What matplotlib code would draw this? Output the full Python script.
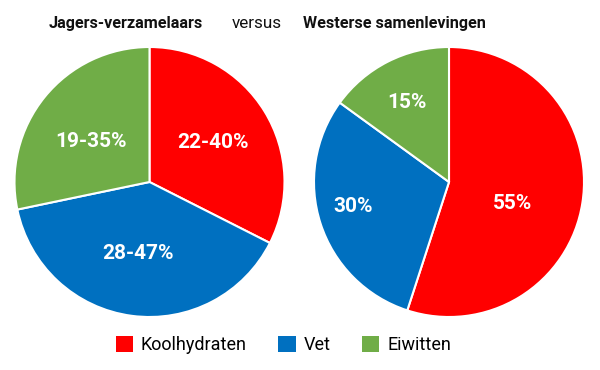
import matplotlib
matplotlib.use("Agg")
import matplotlib.pyplot as plt
from matplotlib.patches import Patch

plt.rcParams['font.family'] = ['Roboto', 'DejaVu Sans']

categories = ["Koolhydraten", "Vet", "Eiwitten"]
colors = ["#FF0000", "#0070C0", "#70AD47"]

# Hunter-gatherers: ranges (midpoints used for slice sizes)
hg_low = [22, 28, 19]
hg_high = [40, 47, 35]
hg_values = [(a + b) / 2 for a, b in zip(hg_low, hg_high)]
hg_labels = [f"{a}-{b}%" for a, b in zip(hg_low, hg_high)]

# Western societies
west_values = [55, 30, 15]
west_labels = [f"{v}%" for v in west_values]

fig = plt.figure(figsize=(6, 3.7), dpi=100)

W, H = 600, 370
r = 135
def pie_axes(cx, cy):
    return fig.add_axes([(cx - r) / W, (H - cy - r) / H, 2 * r / W, 2 * r / H])

ax1 = pie_axes(149.5, 182)
ax2 = pie_axes(449, 182)

for ax, vals, labs, pos in [
    (ax1, hg_values, hg_labels, [(0.47, 0.29), (-0.085, -0.526), (-0.43, 0.30)]),
    (ax2, west_values, west_labels, [(0.47, -0.156), (-0.71, -0.185), (-0.31, 0.59)]),
]:
    ax.pie(vals, colors=colors, startangle=90, counterclock=False, radius=1,
           wedgeprops=dict(edgecolor="white", linewidth=1.5))
    for (x, y), t in zip(pos, labs):
        ax.text(x, y, t, color="white", fontsize=15, fontweight="bold",
                ha="center", va="center")
    ax.set_xlim(-1, 1)
    ax.set_ylim(-1, 1)
    ax.set_aspect("equal")
    ax.axis("off")

fig.text(126 / W, 1 - 28 / H, "Jagers-verzamelaars", ha="center", va="baseline",
         fontsize=11.6, fontweight="bold", color="#111111")
fig.text(257 / W, 1 - 28 / H, "versus", ha="center", va="baseline",
         fontsize=12.3, color="#111111")
fig.text(394 / W, 1 - 28 / H, "Westerse samenlevingen", ha="center", va="baseline",
         fontsize=11.6, fontweight="bold", color="#111111")

handles = [Patch(facecolor=c, edgecolor="none") for c in colors]
fig.legend(handles, categories, loc="center", bbox_to_anchor=(283.5 / W, 1 - 345 / H),
           ncol=3, frameon=False, fontsize=13, handlelength=0.95, handleheight=0.95,
           handletextpad=0.45, columnspacing=1.75, borderpad=0, borderaxespad=0)

fig.savefig("out.png", dpi=100, facecolor="white")
